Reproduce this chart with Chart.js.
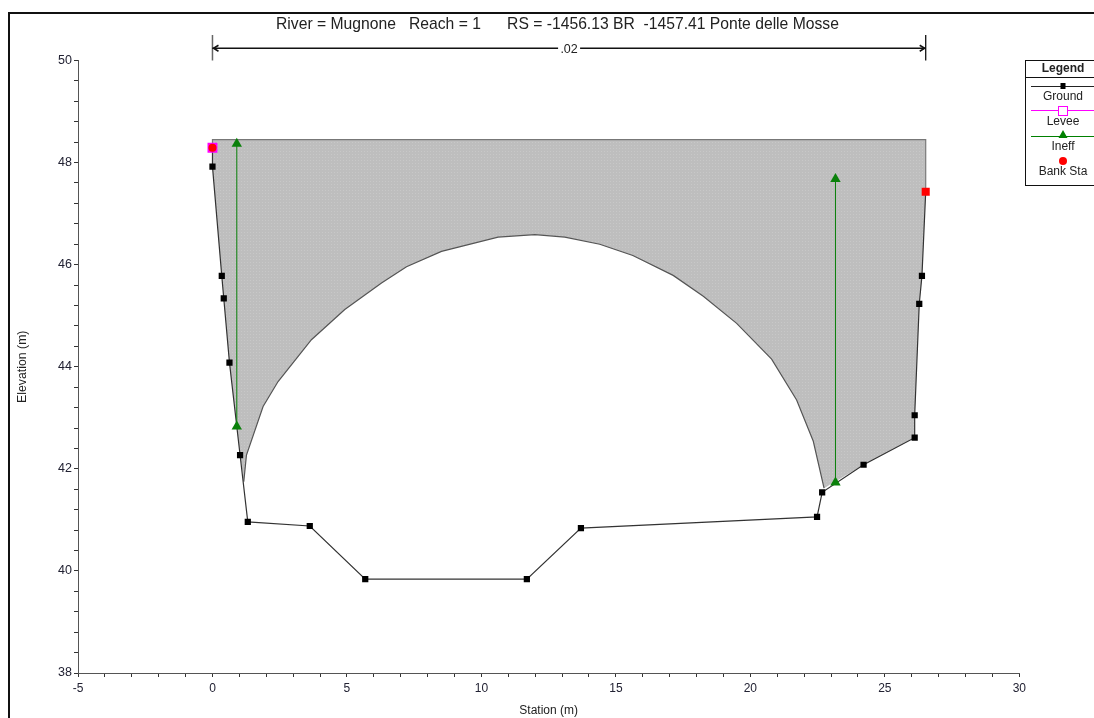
<!DOCTYPE html>
<html>
<head>
 <title>River = Mugnone Cross Section</title>
 <script src="https://cdn.jsdelivr.net/npm/chart.js"></script>
 <style>
  body { margin: 0; background: #fff; font-family: "Liberation Sans", Arial, sans-serif; }
  #frame { position: absolute; left: 8px; top: 12px; width: 1086px; height: 706px; border-left: 2px solid #111; border-top: 2px solid #111; box-sizing: border-box; }
  #dataChart { position: absolute; left: 0; top: 0; }
 </style>
</head>
<body>
 <div id="frame"></div>
 <canvas id="dataChart" width="1094" height="718"></canvas>

 <script>
  // Values
  const titleText = 'River = Mugnone   Reach = 1      RS = -1456.13 BR  -1457.41 Ponte delle Mosse';
  const xAxisLabel = 'Station (m)';
  const yAxisLabel = 'Elevation (m)';
  const legendLabels = ['Ground', 'Levee', 'Ineff', 'Bank Sta'];

  const groundStation = [0, 0, 0.346, 0.42, 0.632, 1.026, 1.313, 3.618, 5.68, 11.69, 13.70, 22.48, 22.67, 24.21, 26.11, 26.11, 26.28, 26.38, 26.52];
  const groundElev = [48.29, 47.92, 45.78, 45.34, 44.08, 42.27, 40.96, 40.88, 39.84, 39.84, 40.84, 41.06, 41.54, 42.08, 42.61, 43.05, 45.23, 45.78, 47.43];

  const archStation = [1.164, 1.264, 1.882, 2.44, 3.68, 4.92, 6.285, 7.215, 8.516, 10.62, 11.99, 13.10, 14.40, 15.63, 17.13, 18.25, 19.49, 20.79, 21.72, 22.34, 22.74];
  const archElev = [41.75, 42.27, 43.22, 43.71, 44.53, 45.12, 45.64, 45.96, 46.26, 46.54, 46.59, 46.54, 46.40, 46.18, 45.79, 45.38, 44.85, 44.15, 43.35, 42.54, 41.62];

  // lower edge of the grey bridge deck, filled up to deckTop
  const deckTop = 48.45;
  const deckStation = [0, 0, 0.346, 0.42, 0.632, 1.026, 1.164, 1.264, 1.882, 2.44, 3.68, 4.92, 6.285, 7.215, 8.516, 10.62, 11.99, 13.10, 14.40, 15.63, 17.13, 18.25, 19.49, 20.79, 21.72, 22.34, 22.74, 24.21, 26.11, 26.11, 26.28, 26.38, 26.52, 26.52];
  const deckElev = [48.45, 47.92, 45.78, 45.34, 44.08, 42.27, 41.75, 42.27, 43.22, 43.71, 44.53, 45.12, 45.64, 45.96, 46.26, 46.54, 46.59, 46.54, 46.40, 46.18, 45.79, 45.38, 44.85, 44.15, 43.35, 42.54, 41.62, 42.08, 42.61, 43.05, 45.23, 45.78, 47.43, 48.45];
  const deckEdgeStation = [0, 0, 26.52, 26.52];
  const deckEdgeElev = [48.29, 48.45, 48.45, 47.43];

  const ineffLeftStation = [0.904, 0.904];
  const ineffLeftElev = [42.83, 48.37];
  const ineffRightStation = [23.165, 23.165];
  const ineffRightElev = [41.73, 47.68];

  const leveeStation = [0];
  const leveeElev = [48.29];
  const bankStation = [0, 26.52];
  const bankElev = [48.29, 47.43];

  // Manning's n bar above the plot
  const nStation = [0, 26.52];
  const nElev = [50.24, 50.24];
  const nTickElev = [50, 50.5];
  const nLabel = '.02';

  const FONT = '"Liberation Sans", Arial, sans-serif';

  function zip(xs, ys) {
   return xs.map((x, i) => ({ x: x, y: ys[i] }));
  }

  // fine dither of the deck fill
  function deckPattern() {
   const c = document.createElement('canvas');
   c.width = 3;
   c.height = 3;
   const g = c.getContext('2d');
   g.fillStyle = '#bebebe';
   g.fillRect(0, 0, 3, 3);
   g.fillStyle = '#c8c8c8';
   g.fillRect(1, 1, 1, 1);
   return g.createPattern(c, 'repeat');
  }

  // title, n value with its arrows
  const headerPlugin = {
   id: 'header',
   afterDatasetsDraw(chart) {
    const ctx = chart.ctx;
    const sx = chart.scales.x;
    const sy = chart.scales.y;
    ctx.save();
    ctx.fillStyle = '#222';
    ctx.font = '15.7px ' + FONT;
    ctx.textAlign = 'left';
    ctx.textBaseline = 'middle';
    ctx.fillText(titleText, 276, 24.5);

    const x0 = sx.getPixelForValue(nStation[0]);
    const x1 = sx.getPixelForValue(nStation[1]);
    const yn = sy.getPixelForValue(nElev[0]);
    ctx.strokeStyle = '#111';
    ctx.lineWidth = 1.5;
    ctx.beginPath();
    ctx.moveTo(x0 + 6, yn - 3); ctx.lineTo(x0 + 1, yn); ctx.lineTo(x0 + 6, yn + 3);
    ctx.moveTo(x1 - 6, yn - 3); ctx.lineTo(x1 - 1, yn); ctx.lineTo(x1 - 6, yn + 3);
    ctx.stroke();

    const mid = (x0 + x1) / 2;
    ctx.fillStyle = '#fff';
    ctx.fillRect(mid - 11, yn - 7, 22, 14);
    ctx.fillStyle = '#222';
    ctx.font = '12.5px ' + FONT;
    ctx.textAlign = 'center';
    ctx.fillText(nLabel, mid, yn + 1);
    ctx.restore();
   }
  };

  // HEC-RAS style legend, markers sit on top of their labels
  const legendBoxPlugin = {
   id: 'legendBox',
   afterDraw(chart) {
    const ctx = chart.ctx;
    const left = 1025.5, cx = 1063;
    ctx.save();
    ctx.fillStyle = '#fff';
    ctx.strokeStyle = '#111';
    ctx.lineWidth = 1;
    ctx.fillRect(left, 60.5, 80, 125);
    ctx.strokeRect(left, 60.5, 80, 125);
    ctx.beginPath();
    ctx.moveTo(left, 77.5);
    ctx.lineTo(1094, 77.5);
    ctx.stroke();

    ctx.textAlign = 'center';
    ctx.textBaseline = 'middle';
    ctx.fillStyle = '#222';
    ctx.font = 'bold 12px ' + FONT;
    ctx.fillText('Legend', cx, 68.5);
    ctx.font = '12px ' + FONT;
    [97, 121.5, 147, 172].forEach((y, i) => ctx.fillText(legendLabels[i], cx, y));

    const hline = (y, color) => {
     ctx.strokeStyle = color;
     ctx.beginPath();
     ctx.moveTo(1031, y);
     ctx.lineTo(1094, y);
     ctx.stroke();
    };
    hline(86.5, '#222');
    ctx.fillStyle = '#000';
    ctx.fillRect(cx - 2.5, 83, 5, 6);

    hline(110.5, '#ff00ff');
    ctx.strokeStyle = '#ff00ff';
    ctx.fillStyle = '#fff';
    ctx.fillRect(cx - 4.5, 106.5, 9, 9);
    ctx.strokeRect(cx - 4.5, 106.5, 9, 9);

    hline(136.5, '#008000');
    ctx.fillStyle = '#008000';
    ctx.beginPath();
    ctx.moveTo(cx, 130); ctx.lineTo(cx + 4.5, 138); ctx.lineTo(cx - 4.5, 138);
    ctx.closePath();
    ctx.fill();

    ctx.fillStyle = '#ff0000';
    ctx.beginPath();
    ctx.arc(cx, 161, 4, 0, Math.PI * 2);
    ctx.fill();
    ctx.restore();
   }
  };

  const ctx = document.getElementById('dataChart').getContext('2d');
  const green = '#0a800a';
  const chart = new Chart(ctx, {
   type: 'scatter',
   data: {
    datasets: [
     { label: 'Deck fill', data: zip(deckStation, deckElev), showLine: true, fill: { value: deckTop }, backgroundColor: deckPattern(), borderWidth: 0, pointRadius: 0, order: 8 },
     { label: 'Deck edge', data: zip(deckEdgeStation, deckEdgeElev), showLine: true, borderColor: '#777', borderWidth: 1.2, pointRadius: 0, order: 7 },
     { label: 'Arch', data: zip(archStation, archElev), showLine: true, borderColor: '#555', borderWidth: 1.2, pointRadius: 0, order: 6 },
     { label: legendLabels[0], data: zip(groundStation, groundElev), showLine: true, borderColor: '#333', borderWidth: 1.2, pointStyle: 'rect', pointRadius: 4.4, backgroundColor: '#000', pointBorderWidth: 0, order: 5 },
     { label: 'Ineff left', data: zip(ineffLeftStation, ineffLeftElev), showLine: true, borderColor: green, borderWidth: 1, pointStyle: 'triangle', pointRadius: 6, backgroundColor: green, pointBorderWidth: 0, order: 4 },
     { label: legendLabels[2], data: zip(ineffRightStation, ineffRightElev), showLine: true, borderColor: green, borderWidth: 1, pointStyle: 'triangle', pointRadius: 6, backgroundColor: green, pointBorderWidth: 0, order: 3 },
     { label: legendLabels[1], data: zip(leveeStation, leveeElev), pointStyle: 'rect', pointRadius: 7, backgroundColor: '#ff00ff', pointBorderWidth: 0, order: 2 },
     { label: legendLabels[3], data: zip(bankStation, bankElev), pointStyle: ['circle', 'rect'], pointRadius: [4, 5.7], backgroundColor: '#ff0000', pointBorderWidth: 0, order: 1 },
     { label: 'n bar', data: zip(nStation, nElev), showLine: true, clip: false, borderColor: '#111', borderWidth: 1.3, pointRadius: 0, order: 0 },
     { label: 'n tick left', data: zip([nStation[0], nStation[0]], nTickElev), showLine: true, clip: false, borderColor: '#666', borderWidth: 1.5, pointRadius: 0, order: 0 },
     { label: 'n tick right', data: zip([nStation[1], nStation[1]], nTickElev), showLine: true, clip: false, borderColor: '#111', borderWidth: 1.3, pointRadius: 0, order: 0 }
    ]
   },
   options: {
    responsive: false,
    animation: false,
    events: [],
    layout: { padding: { left: 0, right: 74.7, top: 60.5, bottom: 0 } },
    plugins: { legend: { display: false }, tooltip: { enabled: false }, title: { display: false } },
    scales: {
     x: {
      type: 'linear',
      min: -5,
      max: 30,
      afterFit: s => { s.height = 45; },
      border: { color: '#555' },
      grid: { drawOnChartArea: false, color: '#333', tickLength: 4 },
      title: { display: true, text: xAxisLabel, color: '#222', font: { family: FONT, size: 12 }, padding: { top: 0, bottom: 0 } },
      ticks: {
       stepSize: 1,
       autoSkip: false,
       maxRotation: 0,
       padding: 4,
       color: '#223',
       font: { family: FONT, size: 12 },
       callback: v => (v % 5 === 0 ? v : '')
      }
     },
     y: {
      type: 'linear',
      min: 38,
      max: 50,
      afterFit: s => { s.width = 78; },
      border: { color: '#555' },
      grid: { drawOnChartArea: false, color: '#333', tickLength: 4 },
      title: { display: true, text: yAxisLabel, color: '#222', font: { family: FONT, size: 12.3 }, padding: { top: 15, bottom: 0 } },
      ticks: {
       stepSize: 0.4,
       autoSkip: false,
       padding: 2,
       color: '#223',
       font: { family: FONT, size: 12.5 },
       callback: v => (Math.round(v * 10) % 20 === 0 ? Math.round(v) : '')
      }
     }
    }
   },
   plugins: [headerPlugin, legendBoxPlugin]
  });
 </script>
</body>
</html>
